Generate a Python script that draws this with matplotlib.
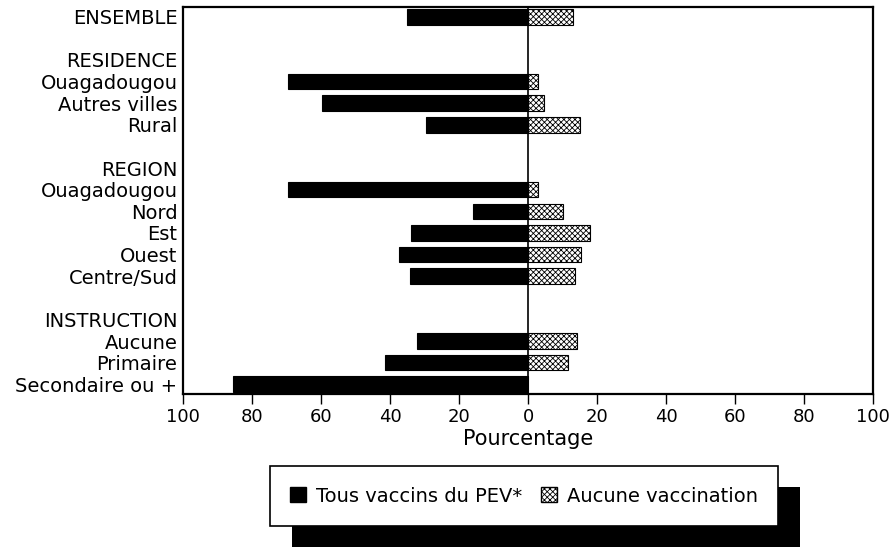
import matplotlib
matplotlib.use("Agg")
import matplotlib.pyplot as plt
from matplotlib.patches import Rectangle, Patch
import numpy as np

plt.rcParams['font.family'] = ['DejaVu Sans']
plt.rcParams['hatch.linewidth'] = 0.6

labels = ["ENSEMBLE", "", "RESIDENCE", "Ouagadougou", "Autres villes", "Rural", "",
          "REGION", "Ouagadougou", "Nord", "Est", "Ouest", "Centre/Sud", "",
          "INSTRUCTION", "Aucune", "Primaire", "Secondaire ou +"]
tous_vaccins = [35.0, None, None, 69.7, 59.8, 29.5, None,
                None, 69.6, 15.9, 33.9, 37.3, 34.2, None,
                None, 32.2, 41.4, 85.6]
aucune_vacc = [13.1, None, None, 3.0, 4.5, 15.2, None,
               None, 3.0, 10.1, 18.1, 15.3, 13.7, None,
               None, 14.1, 11.6, 0.0]
xticks = [-100, -80, -60, -40, -20, 0, 20, 40, 60, 80, 100]
xtick_labels = ["100", "80", "60", "40", "20", "0", "20", "40", "60", "80", "100"]

fig = plt.figure(figsize=(8.91, 5.48), dpi=100)
ax = fig.add_axes([183/891, 1-394/548, (873-183)/891, (394-7)/548])

ypos = np.arange(len(labels))
h = 0.72
for y, l, r in zip(ypos, tous_vaccins, aucune_vacc):
    if l is not None:
        ax.barh(y, -l, height=h, color='black', edgecolor='black', linewidth=0.8)
    if r is not None and r > 0:
        ax.barh(y, r, height=h, color='white', edgecolor='black', hatch='xxxxxx', linewidth=0.8)

ax.axvline(0, color='black', linewidth=1.2)
ax.set_xlim(-100, 100)
ax.set_ylim(len(labels) - 0.55, -0.45)
ax.set_yticks(ypos)
ax.set_yticklabels(labels, fontsize=14)
ax.tick_params(axis='y', length=0, pad=4)
ax.set_xticks(xticks)
ax.set_xticklabels(xtick_labels, fontsize=13)
ax.tick_params(axis='x', direction='out', length=7, width=1, pad=3)
for s in ax.spines.values():
    s.set_linewidth(1.6)
ax.set_xlabel("Pourcentage", fontsize=15, labelpad=2)

handles = [Patch(facecolor='black', edgecolor='black'),
           Patch(facecolor='white', edgecolor='black', hatch='xxxxxx')]
leg = fig.legend(handles, ["Tous vaccins du PEV*", "Aucune vaccination"],
                 loc='center', bbox_to_anchor=(524/891, 1-496/548), ncol=2,
                 fontsize=14, frameon=True, fancybox=False, edgecolor='black',
                 handlelength=0.8, handleheight=0.8, handletextpad=0.5,
                 columnspacing=1.0, borderpad=1.05, borderaxespad=0, framealpha=1)
leg.get_frame().set_linewidth(1.2)
leg.set_zorder(10)

fig.canvas.draw()
bb = leg.get_window_extent()
ox, oy = 22, 21
shadow = Rectangle((bb.x0 + ox, bb.y0 - oy), bb.width, bb.height,
                   transform=None, facecolor='black', edgecolor='none', zorder=5)
fig.add_artist(shadow)

fig.savefig("out.png", dpi=100)
